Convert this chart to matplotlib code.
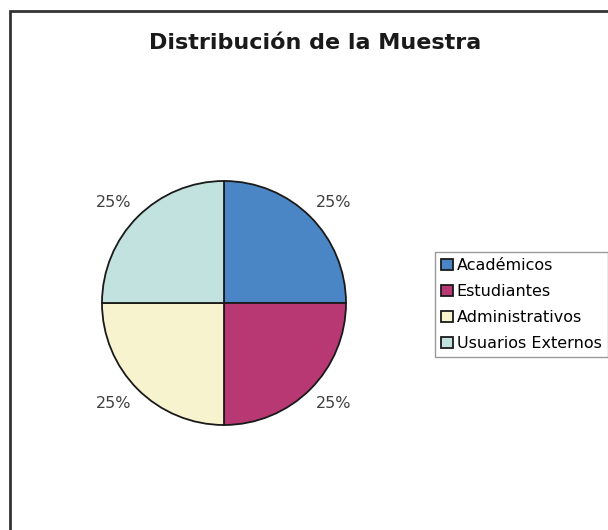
import matplotlib.pyplot as plt
from matplotlib.patches import Rectangle
import numpy as np

categorias = ['Académicos', 'Estudiantes', 'Administrativos', 'Usuarios Externos']
valores = [25, 25, 25, 25]
colores = ['#4A86C5', '#B73872', '#F8F3CF', '#C1E2DF']
titulo = 'Distribución de la Muestra'

W, H = 608, 530
fig = plt.figure(figsize=(W / 100, H / 100), dpi=100)

# marco exterior (se sale por la derecha y por abajo)
fig.patches.append(Rectangle((10 / W, -0.1), 1.2, 1 - 11 / H + 0.1,
                             transform=fig.transFigure, fill=False,
                             edgecolor='#333333', linewidth=2, clip_on=False))

fig.text(315 / W, 1 - 43 / H, titulo, ha='center', va='center',
         fontsize=16, fontweight='bold', color='#1a1a1a')

cx, cy, r = 224, 303, 122
ax = fig.add_axes([(cx - r) / W, (H - cy - r) / H, 2 * r / W, 2 * r / H])
wedges, _ = ax.pie(valores, colors=colores, startangle=90, counterclock=False,
                   wedgeprops=dict(edgecolor='#1a1a1a', linewidth=1.3))
ax.set_xlim(-1, 1)
ax.set_ylim(-1, 1)
ax.set_aspect('equal')
ax.axis('off')

# etiquetas de porcentaje
total = sum(valores)
for w, v in zip(wedges, valores):
    ang = np.deg2rad((w.theta1 + w.theta2) / 2)
    ax.text(1.275 * np.cos(ang), 1.16 * np.sin(ang), f'{v / total:.0%}',
            ha='center', va='center', fontsize=11.5, color='#404040', clip_on=False)

leg = fig.legend(wedges, categorias, loc='upper left',
                 bbox_to_anchor=(435 / W, 1 - 252 / H), fontsize=11.5,
                 frameon=True, fancybox=False, edgecolor='#808080',
                 borderpad=0.4, borderaxespad=0, labelspacing=0.68,
                 handlelength=0.7, handleheight=0.7, handletextpad=0.25)
leg.get_frame().set_linewidth(1)

fig.savefig('out.png', dpi=100)
